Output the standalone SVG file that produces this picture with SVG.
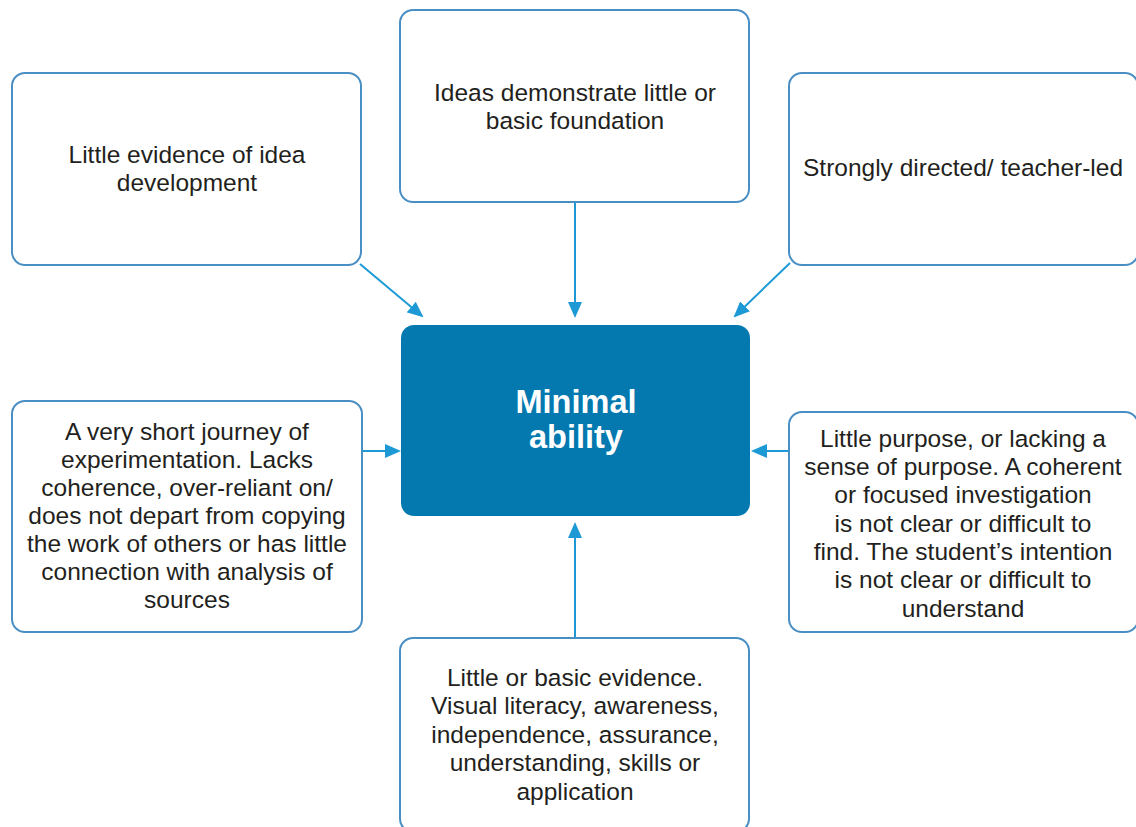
<svg xmlns="http://www.w3.org/2000/svg" width="1136" height="827" viewBox="0 0 1136 827">
<defs>
<style>
.box{fill:#ffffff;stroke:#4a8fc4;stroke-width:2}
.core{fill:#0479b0;stroke:none}
.t{font-family:"Liberation Sans",Arial,sans-serif;font-size:24.5px;fill:#231f20;text-anchor:middle}
.c{font-family:"Liberation Sans",Arial,sans-serif;font-size:32.5px;font-weight:bold;fill:#ffffff;text-anchor:middle}
.arr{stroke:#1d9ad6;stroke-width:2;fill:none;marker-end:url(#ah)}
</style>
<marker id="ah" markerWidth="8" markerHeight="8" refX="7" refY="4" orient="auto" markerUnits="strokeWidth">
<path d="M0,0.5 L8,4 L0,7.5 Z" fill="#1d9ad6"/>
</marker>
</defs>
<rect width="1136" height="827" fill="#ffffff"/>
<g id="connectors">
<line class="arr" x1="360" y1="264" x2="422" y2="316"/>
<line class="arr" x1="575" y1="202" x2="575" y2="316"/>
<line class="arr" x1="790" y1="263" x2="735" y2="316"/>
<line class="arr" x1="362" y1="451" x2="399" y2="451"/>
<line class="arr" x1="789" y1="451" x2="753" y2="451"/>
<line class="arr" x1="575" y1="638" x2="575" y2="524"/>
</g>
<g id="node-idea-development">
<rect class="box" x="12" y="73" width="349" height="192" rx="13"/>
<text class="t" x="187" y="163">Little evidence of idea</text>
<text class="t" x="187" y="191">development</text>
</g>
<g id="node-ideas-foundation">
<rect class="box" x="400" y="10" width="349" height="192" rx="13"/>
<text class="t" x="575" y="101">Ideas demonstrate little or</text>
<text class="t" x="575" y="129">basic foundation</text>
</g>
<g id="node-teacher-led">
<rect class="box" x="789" y="73" width="349" height="192" rx="13"/>
<text class="t" x="963" y="176">Strongly directed/ teacher-led</text>
</g>
<g id="node-minimal-ability">
<rect class="core" x="401" y="325" width="349" height="191" rx="13"/>
<text class="c" x="576" y="413">Minimal</text>
<text class="c" x="576" y="448">ability</text>
</g>
<g id="node-journey">
<rect class="box" x="12" y="401" width="350" height="231" rx="13"/>
<text class="t" x="187" y="440">A very short journey of</text>
<text class="t" x="187" y="468">experimentation. Lacks</text>
<text class="t" x="187" y="496">coherence, over-reliant on/</text>
<text class="t" x="187" y="524">does not depart from copying</text>
<text class="t" x="187" y="552">the work of others or has little</text>
<text class="t" x="187" y="580">connection with analysis of</text>
<text class="t" x="187" y="608">sources</text>
</g>
<g id="node-purpose">
<rect class="box" x="789" y="412" width="349" height="220" rx="13"/>
<text class="t" x="963" y="447">Little purpose, or lacking a</text>
<text class="t" x="963" y="475">sense of purpose. A coherent</text>
<text class="t" x="963" y="503">or focused investigation</text>
<text class="t" x="963" y="532">is not clear or difficult to</text>
<text class="t" x="963" y="560">find. The student’s intention</text>
<text class="t" x="963" y="588">is not clear or difficult to</text>
<text class="t" x="963" y="617">understand</text>
</g>
<g id="node-evidence">
<rect class="box" x="400" y="638" width="349" height="194" rx="13"/>
<text class="t" x="575" y="686">Little or basic evidence.</text>
<text class="t" x="575" y="714">Visual literacy, awareness,</text>
<text class="t" x="575" y="743">independence, assurance,</text>
<text class="t" x="575" y="771">understanding, skills or</text>
<text class="t" x="575" y="800">application</text>
</g>
</svg>
